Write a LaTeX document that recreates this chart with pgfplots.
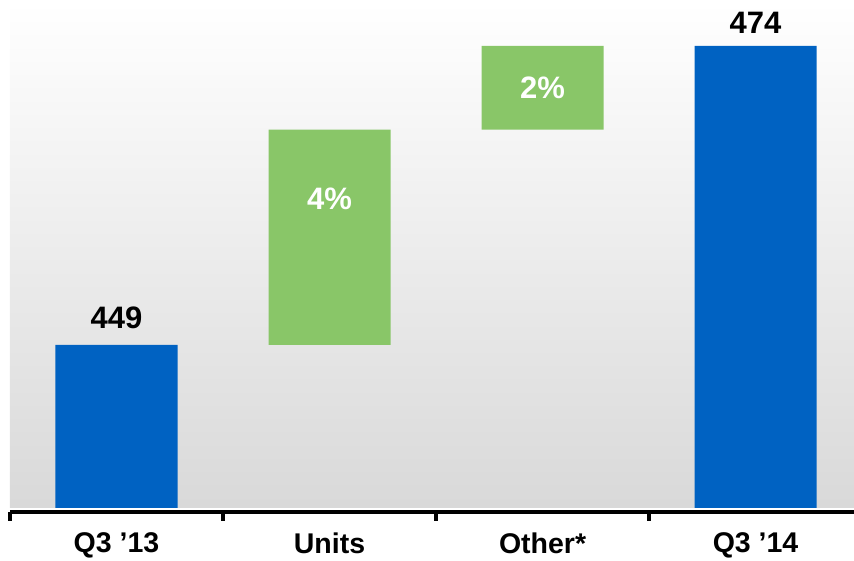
\documentclass[border=0pt]{standalone}
\usepackage{pgfplots}
\pgfplotsset{compat=1.18}
\usepackage{fontspec}
\setmainfont{Liberation Sans}
\definecolor{barblue}{RGB}{0,98,194}
\definecolor{bargreen}{RGB}{137,198,104}
\begin{document}
\begin{tikzpicture}
\begin{axis}[
    scale only axis,
    width=844pt, height=506pt,
    xmin=-0.5, xmax=3.462,
    ymin=435.37, ymax=477.68,
    ybar stacked, bar width=0.573,
    axis x line=bottom, axis y line=none,
    axis background/.style={shade, top color=white, bottom color=black!15},
    x axis line style={line width=3.5pt, -, yshift=-4pt},
    xtick={0,1,2,3},
    xticklabels={Q3 ’13, Units, Other*, Q3 ’14},
    major tick length=0pt,
    extra x ticks={-0.5,0.5,1.5,2.5},
    extra x tick labels={},
    extra x tick style={major tick length=9pt, tick align=outside,
        tick style={line width=3.5pt, black, yshift=-4pt}},
    xticklabel style={font=\fontsize{28.5}{30}\selectfont\bfseries, yshift=-21pt},
]
% invisible base
\addplot[draw=none, fill=none] coordinates {(0,0) (1,449) (2,467) (3,0)};
% totals
\addplot[draw=none, fill=barblue] coordinates {(0,449) (1,0) (2,0) (3,474)};
% changes
\addplot[draw=none, fill=bargreen] coordinates {(0,0) (1,18) (2,7) (3,0)};

\coordinate (a) at (axis cs:0,449);
\coordinate (b) at (axis cs:3,474);
\coordinate (c) at (axis cs:1,460.29);
\coordinate (d) at (axis cs:2,469.57);
\end{axis}
\begin{scope}[every node/.style={anchor=base, inner sep=0, font=\fontsize{31}{33}\selectfont\bfseries}]
\node[yshift=16pt] at (a) {449};
\node[yshift=13pt] at (b) {474};
\node[text=white] at (c) {4\%};
\node[text=white] at (d) {2\%};
\end{scope}
\pgfresetboundingbox
\path ([shift={(-10pt,-52pt)}]current axis.south west) rectangle ([shift={(0pt,2pt)}]current axis.north east);
\end{tikzpicture}
\end{document}
